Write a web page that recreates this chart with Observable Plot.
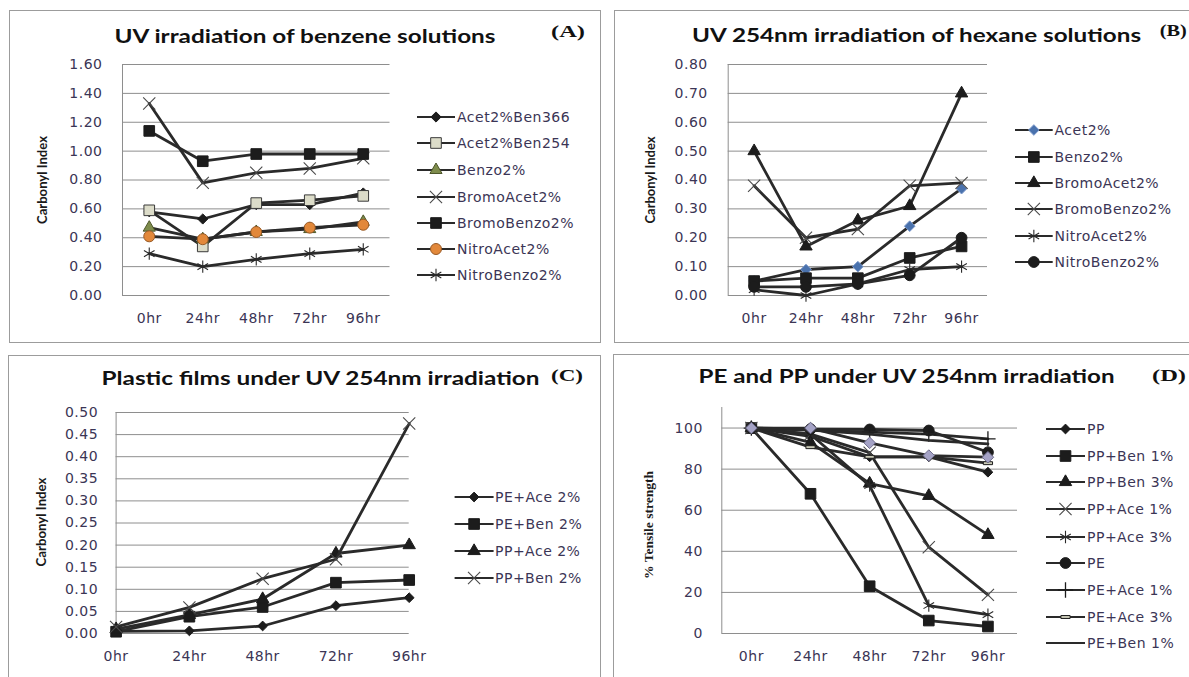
<!DOCTYPE html>
<html><head><meta charset="utf-8">
<script src="https://cdn.jsdelivr.net/npm/d3@7"></script>
<script src="https://cdn.jsdelivr.net/npm/@observablehq/plot@0.6"></script>
<style>
html,body{margin:0;padding:0;background:#fff;}
#chart{position:relative;width:1189px;height:677px;overflow:hidden;background:#fff;}
.box{position:absolute;border:1.5px solid #9c9c9c;box-sizing:border-box;}
</style></head><body><div id="chart"></div>
<script>
// ---------- data ----------
const hours = ["0hr", "24hr", "48hr", "72hr", "96hr"];

// (A) UV irradiation of benzene solutions - Carbonyl Index
const seriesA = ["Acet2%Ben366", "Acet2%Ben254", "Benzo2%", "BromoAcet2%", "BromoBenzo2%", "NitroAcet2%", "NitroBenzo2%"];
const aAcet2Ben366 = [0.58, 0.53, 0.63, 0.63, 0.71];
const aAcet2Ben254 = [0.59, 0.34, 0.64, 0.66, 0.69];
const aBenzo2 = [0.47, 0.39, 0.44, 0.46, 0.51];
const aBromoAcet2 = [1.33, 0.78, 0.85, 0.88, 0.95];
const aBromoBenzo2 = [1.14, 0.93, 0.98, 0.98, 0.98];
const aNitroAcet2 = [0.41, 0.39, 0.44, 0.47, 0.49];
const aNitroBenzo2 = [0.29, 0.20, 0.25, 0.29, 0.32];
const yTicksA = [0, 0.2, 0.4, 0.6, 0.8, 1.0, 1.2, 1.4, 1.6];

// (B) UV 254nm irradiation of hexane solutions - Carbonyl Index
const seriesB = ["Acet2%", "Benzo2%", "BromoAcet2%", "BromoBenzo2%", "NitroAcet2%", "NitroBenzo2%"];
const bAcet2 = [0.05, 0.09, 0.10, 0.24, 0.37];
const bBenzo2 = [0.05, 0.06, 0.06, 0.13, 0.17];
const bBromoAcet2 = [0.50, 0.17, 0.26, 0.31, 0.70];
const bBromoBenzo2 = [0.38, 0.20, 0.23, 0.38, 0.39];
const bNitroAcet2 = [0.02, 0.00, 0.04, 0.09, 0.10];
const bNitroBenzo2 = [0.03, 0.03, 0.04, 0.07, 0.20];
const yTicksB = [0, 0.1, 0.2, 0.3, 0.4, 0.5, 0.6, 0.7, 0.8];

// (C) Plastic films under UV 254nm irradiation - Carbonyl Index
const seriesC = ["PE+Ace 2%", "PE+Ben 2%", "PP+Ace 2%", "PP+Ben 2%"];
const cPEAce2 = [0.005, 0.006, 0.017, 0.063, 0.081];
const cPEBen2 = [0.004, 0.038, 0.060, 0.115, 0.121];
const cPPAce2 = [0.010, 0.042, 0.078, 0.181, 0.200];
const cPPBen2 = [0.015, 0.059, 0.124, 0.168, 0.475];
const yTicksC = [0, 0.05, 0.1, 0.15, 0.2, 0.25, 0.3, 0.35, 0.4, 0.45, 0.5];

// (D) PE and PP under UV 254nm irradiation - % Tensile strength
const seriesD = ["PP", "PP+Ben 1%", "PP+Ben 3%", "PP+Ace 1%", "PP+Ace 3%", "PE", "PE+Ace 1%", "PE+Ace 3%", "PE+Ben 1%", "(not in legend)"];
const dPP = [100, 96, 86, 86, 78.5];
const dPPBen1 = [100, 68, 23, 6.3, 3.4];
const dPPBen3 = [100, 93, 73, 67, 48];
const dPPAce1 = [100, 97, 88, 42, 18.8];
const dPPAce3 = [100, 97, 72, 13.6, 9.2];
const dPE = [100, 99.5, 99.3, 98.8, 88.2];
const dPEAce1 = [100, 99, 98, 97, 94.7];
const dPEAce3 = [100, 90.7, 86, 86, 82.9];
const dPEBen1 = [100, 99, 97, 94, 92.3];
const dExtra = [100, 100, 92.8, 86.6, 85.8];
const yTicksD = [0, 20, 40, 60, 80, 100];

// ---------- styles ----------
const K = "#1c1c1c";
const LINE = "#2a2a2a";
const GRID = "#8e8e8e";
const TXT = "#3b3555";
const dashSymbol = {draw(ctx, size) { const w = Math.sqrt(size) * 1.0, h = w * 0.32; ctx.rect(-w / 2, -h / 2, w, h); }};
const st = (symbol, r, fill, stroke, sw = 1) => ({symbol, r, fill, stroke, sw});

const stylesA = [st("diamond2", 4.6, K, K), st("square", 6.0, "#dcdcc9", "#3a3a3a"), st("triangle", 4.5, "#7e8c4c", "#4d5629"),
  st("times", 5.6, "none", "#4a4a4a", 1.1), st("square", 6.0, K, K), st("circle", 5.5, "#e2883a", "#985a26"), st("asterisk", 5.8, "none", "#2a2a2a", 1.1)];
const stylesB = [st("diamond2", 4.8, "#4a72ad", "#7d9acb"), st("square", 6.0, K, K), st("triangle", 4.6, K, K),
  st("times", 5.6, "none", "#4a4a4a", 1.1), st("asterisk", 5.8, "none", "#2a2a2a", 1.1), st("circle", 5.4, K, K)];
const stylesC = [st("diamond2", 4.4, K, K), st("square", 6.0, K, K), st("triangle", 4.6, K, K), st("times", 5.6, "none", "#4a4a4a", 1.1)];
const stylesD = [st("diamond2", 4.4, K, K), st("square", 6.0, K, K), st("triangle", 4.6, K, K), st("times", 5.6, "none", "#4a4a4a", 1.1),
  st("asterisk", 5.8, "none", "#2a2a2a", 1.1), st("circle", 5.4, K, K), st("plus", 5, "none", K, 1.3), st(dashSymbol, 5.2, "#c9c9b6", K, 1),
  null, st("diamond2", 5.2, "#a5a3c6", "#6e6c8a")];

// ---------- drawing ----------
const chart = document.getElementById("chart");
[[9, 10, 592, 333], [614, 10, 620, 333], [8, 355, 593, 360], [613, 354, 620, 360]].forEach(([l, t, w, h]) => {
  const b = document.createElement("div");
  b.className = "box";
  Object.assign(b.style, {left: l + "px", top: t + "px", width: w + "px", height: h + "px"});
  chart.appendChild(b);
});

function panel(o) {
  const rows = o.series.flatMap((s, k) => o.values[k].map((v, i) => ({series: s, hour: hours[i], i, v})));
  const marks = [
    Plot.gridY(o.yTicks, {stroke: GRID, strokeOpacity: 1, strokeWidth: 1}),
    Plot.ruleX([o.xDomain[0]], {stroke: GRID, strokeWidth: 1}),
    Plot.axisX(d3.range(hours.length), {tickSize: 0, tickPadding: 18, tickFormat: i => hours[i], fontSize: 14, label: null}),
    Plot.axisY(o.yTicks, {tickSize: 0, tickPadding: o.yPad, tickFormat: o.yFormat, fontSize: 14, label: null})
  ];
  o.series.forEach((s, k) => {
    const d = rows.filter(r => r.series === s);
    marks.push(Plot.line(d, {x: "i", y: "v", stroke: LINE, strokeWidth: 2.8, strokeLinejoin: "round"}));
    const sty = o.styles[k];
    if (sty) marks.push(Plot.dot(d, {x: "i", y: "v", symbol: sty.symbol, r: sty.r, fill: sty.fill, stroke: sty.stroke, strokeWidth: sty.sw}));
  });
  const svg = Plot.plot({
    width: o.width, height: o.height,
    marginLeft: o.ml, marginRight: o.mr, marginTop: o.mt, marginBottom: o.mb,
    x: {type: "linear", domain: o.xDomain, label: null},
    y: {domain: o.yDomain, label: null},
    style: {background: "none", overflow: "visible", fontFamily: "'DejaVu Sans', Verdana, sans-serif", color: TXT, letterSpacing: "0.5px"},
    marks
  });
  Object.assign(svg.style, {position: "absolute", left: o.left + "px", top: o.top + "px"});
  chart.appendChild(svg);
}

const f2 = d3.format(".2f");
panel({left: 0, top: 0, width: 600, height: 340, ml: 122, mr: 210.5, mt: 64, mb: 45, yPad: 20,
  xDomain: [-0.5, 4.5], yDomain: [0, 1.6], yTicks: yTicksA, yFormat: f2, series: seriesA,
  values: [aAcet2Ben366, aAcet2Ben254, aBenzo2, aBromoAcet2, aBromoBenzo2, aNitroAcet2, aNitroBenzo2], styles: stylesA});
panel({left: 600, top: 0, width: 589, height: 340, ml: 127.7, mr: 202, mt: 64, mb: 45, yPad: 20.5,
  xDomain: [-0.5, 4.5], yDomain: [0, 0.8], yTicks: yTicksB, yFormat: f2, series: seriesB,
  values: [bAcet2, bBenzo2, bBromoAcet2, bBromoBenzo2, bNitroAcet2, bNitroBenzo2], styles: stylesB});
panel({left: 0, top: 340, width: 600, height: 337, ml: 115.6, mr: 191.3, mt: 72, mb: 44, yPad: 18,
  xDomain: [0, 4], yDomain: [0, 0.5], yTicks: yTicksC, yFormat: f2, series: seriesC,
  values: [cPEAce2, cPEBen2, cPPAce2, cPPBen2], styles: stylesC});
panel({left: 600, top: 340, width: 589, height: 337, ml: 121.3, mr: 172, mt: 67, mb: 44, yPad: 19,
  xDomain: [-0.5, 4.5], yDomain: [0, 110], yTicks: yTicksD, yFormat: d3.format("d"), series: seriesD,
  values: [dPP, dPPBen1, dPPBen3, dPPAce1, dPPAce3, dPE, dPEAce1, dPEAce3, dPEBen1, dExtra], styles: stylesD});

// ---------- overlay: titles, axis titles, legends ----------
const ov = d3.select(chart).append("svg").attr("width", 1189).attr("height", 677)
  .style("position", "absolute").style("left", "0px").style("top", "0px").style("pointer-events", "none");

function fitted(x, y, txt, len, font, size, weight, anchor = "middle", fill = "#111") {
  return ov.append("text").attr("x", x).attr("y", y).attr("text-anchor", anchor)
    .attr("font-family", font).attr("font-size", size).attr("font-weight", weight).attr("fill", fill)
    .attr("textLength", len).attr("lengthAdjust", "spacingAndGlyphs").text(txt);
}
const TF = "Lato, 'Open Sans', sans-serif";
const SERIF = "'Liberation Serif', 'DejaVu Serif', serif";
fitted(305, 43.3, "UV irradiation of benzene solutions", 381, TF, 18.5, 700);
fitted(916.6, 41.7, "UV 254nm irradiation of hexane solutions", 449, TF, 18.5, 700);
fitted(320.5, 385, "Plastic films under UV 254nm irradiation", 438, TF, 18.5, 700);
fitted(906.5, 383.3, "PE and PP under UV 254nm irradiation", 416, TF, 18.5, 700);
fitted(551, 37, "(A)", 34, SERIF, 16, 700, "start");
fitted(1159.7, 36, "(B)", 27, SERIF, 16, 700, "start");
fitted(551, 381, "(C)", 32, SERIF, 16, 700, "start");
fitted(1152, 381, "(D)", 34, SERIF, 16, 700, "start");

function yTitle(x, y, txt, len, font, size) {
  ov.append("text").attr("transform", `translate(${x},${y}) rotate(-90)`).attr("dy", "0.35em")
    .attr("text-anchor", "middle").attr("font-family", font).attr("font-size", size).attr("font-weight", 700)
    .attr("fill", "#1a1a1a").attr("textLength", len).attr("lengthAdjust", "spacingAndGlyphs").text(txt);
}
yTitle(43, 180, "Carbonyl Index", 88, TF, 12.5);
yTitle(650.7, 180, "Carbonyl Index", 87, TF, 12.5);
yTitle(42, 522, "Carbonyl Index", 89, TF, 12.5);
yTitle(648, 525, "% Tensile strength", 108, SERIF, 13.5);

const d3sym = {circle: d3.symbolCircle, square: d3.symbolSquare, triangle: d3.symbolTriangle, diamond2: d3.symbolDiamond2,
  times: d3.symbolTimes, asterisk: d3.symbolAsterisk, plus: d3.symbolPlus};
function legend(x0, x1, tx, ys, labels, styles) {
  labels.forEach((lab, k) => {
    const y = ys[k];
    ov.append("line").attr("x1", x0).attr("x2", x1).attr("y1", y).attr("y2", y).attr("stroke", LINE).attr("stroke-width", 2.2);
    const s = styles[k];
    if (s) {
      const type = typeof s.symbol === "string" ? d3sym[s.symbol] : s.symbol;
      ov.append("path").attr("d", d3.symbol(type, Math.PI * s.r * s.r)()).attr("transform", `translate(${(x0 + x1) / 2},${y})`)
        .attr("fill", s.fill).attr("stroke", s.stroke).attr("stroke-width", s.sw);
    }
    ov.append("text").attr("x", tx).attr("y", y + 5).attr("font-family", "'DejaVu Sans', Verdana, sans-serif")
      .attr("font-size", 14).attr("letter-spacing", "0.5px").attr("fill", TXT).text(lab);
  });
}
legend(417, 455, 457, [117, 143, 170, 197, 223, 249, 275], seriesA, stylesA);
legend(1015, 1052.7, 1054.5, [130, 157, 183, 209, 236, 262], seriesB, stylesB);
legend(454.6, 493.6, 495, [497, 524, 551, 578], seriesC, stylesC);
legend(1046, 1085, 1087, [429, 456, 482, 509, 537, 563, 590, 617, 643], seriesD.slice(0, 9), stylesD.slice(0, 9));
</script></body></html>
